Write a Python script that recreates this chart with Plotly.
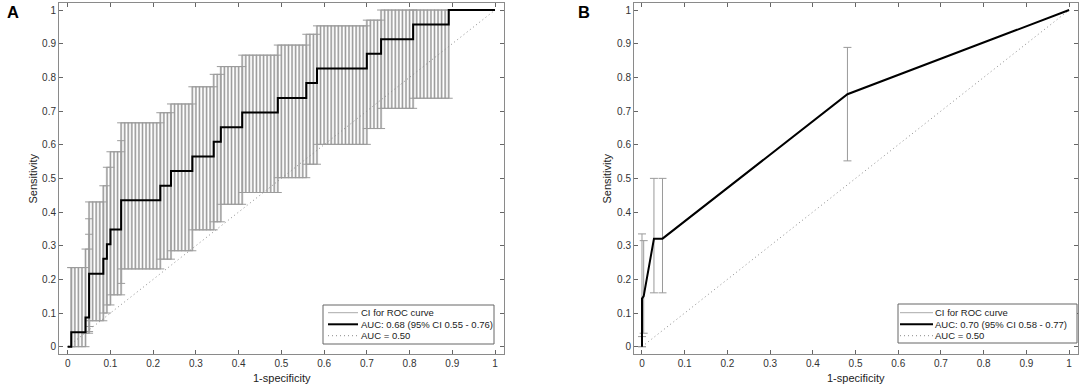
import plotly.graph_objects as go

W, H = 1084, 390

# ---------------- Panel A data ----------------
# ROC runs: each run = consecutive thresholds sharing the same sensitivity and CI.
# FP counts (false positives out of A_N_NEG negatives) at start / end of each run.
A_N_NEG = 120
A_FP_START = [1, 1, 5, 6, 6, 6, 10, 11, 12, 15, 15, 26, 29, 35, 41, 43, 49, 59, 67, 70, 84, 88, 97, 107]
A_FP_END = [1, 5, 6, 6, 6, 10, 11, 12, 15, 15, 26, 29, 35, 41, 43, 49, 59, 67, 70, 84, 88, 97, 107, 120]
A_TPR = [0.0, 0.043, 0.087, 0.130, 0.174, 0.217, 0.261, 0.304, 0.348, 0.391, 0.435, 0.478,
         0.522, 0.565, 0.609, 0.652, 0.696, 0.739, 0.783, 0.826, 0.870, 0.913, 0.957, 1.0]
A_LO = [0.0, 0.0, 0.04, 0.045, 0.06, 0.077, 0.10, 0.124, 0.154, 0.188, 0.231, 0.26,
        0.285, 0.347, 0.371, 0.423, 0.458, 0.502, 0.542, 0.601, 0.648, 0.708, 0.738, 1.0]
A_HI = [0.235, 0.235, 0.29, 0.334, 0.38, 0.43, 0.478, 0.533, 0.579, 0.612, 0.665, 0.695,
        0.721, 0.772, 0.809, 0.832, 0.866, 0.896, 0.928, 0.953, 0.97, 1.0, 1.0, 1.0]
A_LEGEND = ["CI for ROC curve", "AUC: 0.68 (95% CI 0.55 - 0.76)", "AUC = 0.50"]

# ---------------- Panel B data ----------------
B_FPR = [0.0, 0.0, 0.004, 0.028, 0.048, 0.481, 1.0]
B_TPR = [0.0, 0.143, 0.15, 0.321, 0.321, 0.75, 1.0]
B_LO = [0.0, 0.03, 0.04, 0.16, 0.16, 0.552, None]
B_HI = [0.0, 0.335, 0.315, 0.50, 0.50, 0.889, None]
B_LEGEND = ["CI for ROC curve", "AUC: 0.70 (95% CI 0.58 - 0.77)", "AUC = 0.50"]

CHANCE_X = [0, 1]
CHANCE_Y = [0, 1]

TICKS = [0, 0.1, 0.2, 0.3, 0.4, 0.5, 0.6, 0.7, 0.8, 0.9, 1]
TICK_TEXT = ["0", "0.1", "0.2", "0.3", "0.4", "0.5", "0.6", "0.7", "0.8", "0.9", "1"]

FONT = "Liberation Sans, Arial, Helvetica, sans-serif"

# ---- build panel A bars and curve from runs
a_bx, a_by, a_up, a_dn = [], [], [], []
a_cx, a_cy = [0.0], [0.0]
for s, e, t, lo, hi in zip(A_FP_START, A_FP_END, A_TPR, A_LO, A_HI):
    a_cx += [s / A_N_NEG, e / A_N_NEG]
    a_cy += [t, t]
    if hi > lo:
        for k in range(s, e + 1):
            a_bx.append(k / A_N_NEG)
            a_by.append(t)
            a_up.append(hi - t)
            a_dn.append(t - lo)

b_bx, b_by, b_up, b_dn = [], [], [], []
for x, t, lo, hi in zip(B_FPR, B_TPR, B_LO, B_HI):
    if lo is not None:
        b_bx.append(x)
        b_by.append(t)
        b_up.append(hi - t)
        b_dn.append(t - lo)

fig = go.Figure()


def ci_trace(bx, by, up, dn, xa, ya, thick, color, cap):
    fig.add_trace(go.Scatter(
        x=bx, y=by, mode="markers", xaxis=xa, yaxis=ya,
        marker=dict(size=1, color="rgba(0,0,0,0)"),
        error_y=dict(type="data", symmetric=False, array=up, arrayminus=dn,
                     color=color, thickness=thick, width=cap),
        hoverinfo="skip", showlegend=False))


def add_panel(bx, by, up, dn, cx, cy, xa, ya, dense):
    if dense:
        ci_trace(bx, by, up, dn, xa, ya, 2.2, "#cdcdcd", 0)
        ci_trace(bx, by, up, dn, xa, ya, 1, "#9c9c9c", 4)
    else:
        ci_trace(bx, by, up, dn, xa, ya, 1, "#9a9a9a", 4)
    fig.add_trace(go.Scatter(
        x=CHANCE_X, y=CHANCE_Y, mode="lines", xaxis=xa, yaxis=ya,
        line=dict(color="#8a8a8a", width=1, dash="1px,3px"),
        hoverinfo="skip", showlegend=False))
    fig.add_trace(go.Scatter(
        x=cx, y=cy, mode="lines", xaxis=xa, yaxis=ya,
        line=dict(color="black", width=2),
        hoverinfo="skip", showlegend=False))


add_panel(a_bx, a_by, a_up, a_dn, a_cx, a_cy, "x", "y", True)
add_panel(b_bx, b_by, b_up, b_dn, B_FPR, B_TPR, "x2", "y2", False)


def axis(domain, rng, anchor):
    return dict(domain=domain, range=rng, anchor=anchor, tickmode="array",
                tickvals=TICKS, ticktext=TICK_TEXT, ticks="inside", ticklen=4,
                tickcolor="#666", showline=True, linecolor="#8a8a8a", linewidth=1,
                mirror="ticks", showgrid=False, zeroline=False,
                tickfont=dict(family=FONT, size=10, color="#333"))


def px(x):
    return x / W


def py(y):
    return 1 - y / H


ydom = [py(353.7), py(3.3)]
fig.update_layout(
    width=W, height=H, margin=dict(l=0, r=0, t=0, b=0),
    paper_bgcolor="white", plot_bgcolor="white",
    xaxis=axis([px(59), px(504)], [-0.0204, 1.021], "y"),
    yaxis=axis(ydom, [-0.0208, 1.02], "x"),
    xaxis2=axis([px(634), px(1078)], [-0.0187, 1.0208], "y2"),
    yaxis2=axis(ydom, [-0.0208, 1.02], "x2"),
)

annotations = []
shapes = []


def text(x, y, s, size, angle=0, bold=False, xanchor="center", color="#222"):
    annotations.append(dict(
        x=px(x), y=py(y), xref="paper", yref="paper", text=("<b>%s</b>" % s) if bold else s,
        showarrow=False, textangle=angle, xanchor=xanchor, yanchor="middle",
        font=dict(family=FONT, size=size, color=color)))


# panel labels and axis titles
text(13, 12, "A", 16.5, bold=True, color="black")
text(584, 12, "B", 16.5, bold=True, color="black")
text(33, 178.5, "Sensitivity", 11, angle=-90)
text(607, 178.5, "Sensitivity", 11, angle=-90)
text(281.5, 378, "1-specificity", 11)
text(856, 378, "1-specificity", 11)


def legend(x0, x1, y0, y1, lx0, lx1, tx, labels):
    shapes.append(dict(type="rect", xref="paper", yref="paper",
                       x0=px(x0), x1=px(x1), y0=py(y1), y1=py(y0),
                       line=dict(color="#666", width=1), fillcolor="white"))
    rows = [312.7, 324.3, 335.7]
    styles = [dict(color="#aaaaaa", width=1), dict(color="black", width=2),
              dict(color="#8a8a8a", width=1, dash="1px,3px")]
    for r, st, lab in zip(rows, styles, labels):
        shapes.append(dict(type="line", xref="paper", yref="paper",
                           x0=px(lx0), x1=px(lx1), y0=py(r), y1=py(r), line=st))
        text(tx, r, lab, 9.5, xanchor="left")


legend(323, 494, 305, 344, 328, 358, 359, A_LEGEND)
legend(898, 1077, 304, 343, 900, 933, 933, B_LEGEND)

fig.update_layout(annotations=annotations, shapes=shapes)
fig.write_html(
    "out.html",
    config={"displayModeBar": False, "staticPlot": True},
    post_script="document.body.style.margin='0';document.body.style.overflow='hidden';")
